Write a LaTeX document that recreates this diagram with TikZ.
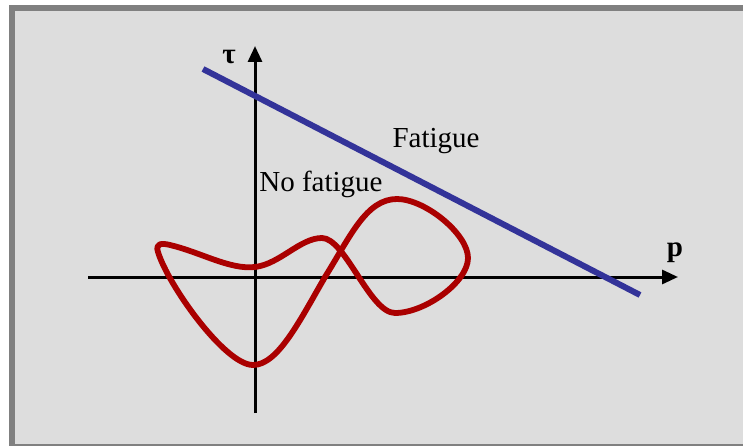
\documentclass[tikz,border=0pt]{standalone}
\usepackage{fontspec}
\setmainfont{Liberation Serif}
\usetikzlibrary{arrows.meta}
\definecolor{framegray}{RGB}{128,128,128}
\definecolor{bggray}{RGB}{221,221,221}
\definecolor{lineblue}{RGB}{51,51,153}
\definecolor{curvered}{RGB}{170,0,0}
\tikzset{
  axis/.style={line width=3pt,-{Triangle[length=16pt,width=14pt]}},
  lbl/.style={font=\fontsize{29}{32}\selectfont,inner sep=0pt,anchor=base},
  axlbl/.style={font=\fontsize{29}{32}\selectfont\bfseries,inner sep=0pt,anchor=base},
}
\begin{document}
\begin{tikzpicture}[x=1pt,y=-1pt]
\useasboundingbox (0,0) rectangle (743,446);
\begin{scope}
\clip (0,0) rectangle (743,446);
\fill[white] (0,0) rectangle (743,446);
\draw[framegray,line width=6pt,fill=bggray] (12,8) rectangle (760,447);
\end{scope}
% axes
\coordinate (xs) at (88,277);
\coordinate (xe) at (678,277);
\coordinate (ys) at (255,413);
\coordinate (ye) at (255,46);
\draw[axis] (xs) -- (xe);
\draw[axis] (ys) -- (ye);
\node[axlbl] (tau) at (229,64) {τ};
\node[axlbl] (p) at (675,256) {p};
% blue line
\coordinate (b1) at (203,69);
\coordinate (b2) at (640,295);
\draw[lineblue,line width=6pt] (b1) -- (b2);
% red curve
\draw[curvered,line width=5.8pt,line join=round]
 (170,245) .. controls (200,252) and (230,270) .. (255,267)
 .. controls (280,264) and (300,238) .. (322,238)
 .. controls (345,238) and (370,313) .. (395,313)
 .. controls (425,313) and (468,282) .. (468,258)
 .. controls (468,234) and (425,199) .. (397,199)
 .. controls (366,199) and (350,237) .. (325,277)
 .. controls (300,320) and (278,365) .. (253,365)
 .. controls (225,365) and (168,285) .. (158,252)
 .. controls (155,243) and (162,243) .. cycle;
% labels
\node[lbl] (fat) at (436,148) {Fatigue};
\node[lbl] (nofat) at (321,192) {No fatigue};
\end{tikzpicture}
\end{document}
